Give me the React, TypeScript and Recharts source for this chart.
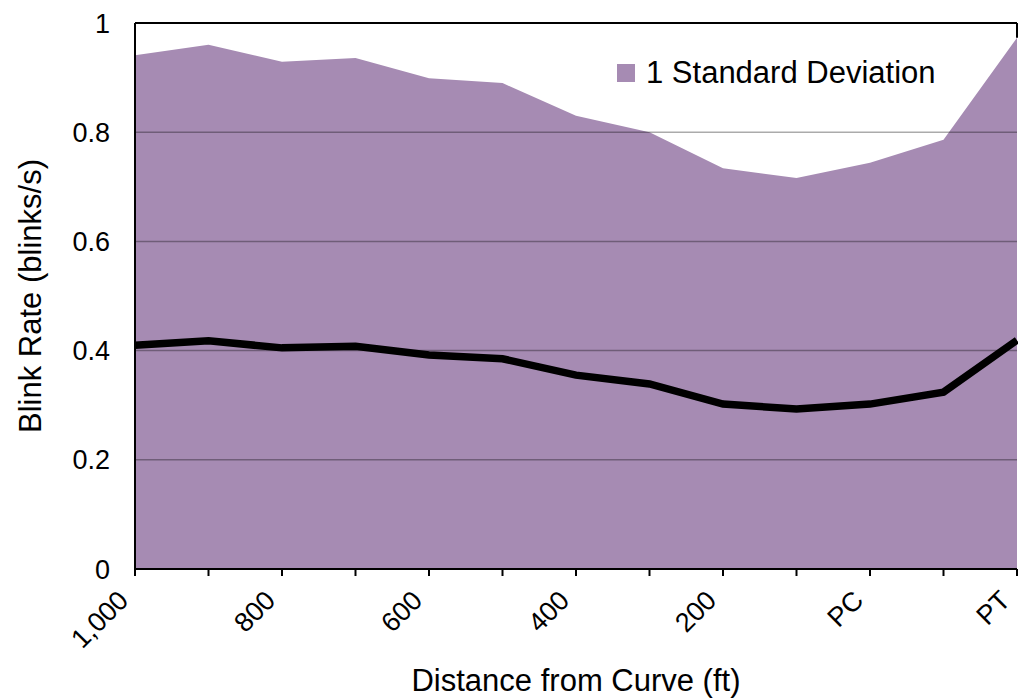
import React from "react";
import {
  ComposedChart,
  Area,
  Line,
  XAxis,
  YAxis,
  ReferenceLine,
  Legend,
  Label,
} from "recharts";

const categories = ["1,000", "900", "800", "700", "600", "500", "400", "300", "200", "100", "PC", "Mid", "PT"];
const shownLabels = ["1,000", "800", "600", "400", "200", "PC", "PT"];
const upperValues = [0.941, 0.960, 0.929, 0.936, 0.899, 0.890, 0.830, 0.800, 0.734, 0.716, 0.744, 0.786, 0.973];
const meanValues = [0.410, 0.418, 0.405, 0.408, 0.392, 0.385, 0.355, 0.339, 0.302, 0.293, 0.302, 0.324, 0.419];
const yTicks = [0, 0.2, 0.4, 0.6, 0.8, 1];
const gridValues = [0.2, 0.4, 0.6, 0.8];

const data = categories.map((c, i) => ({ cat: c, upper: upperValues[i], mean: meanValues[i] }));

const FONT = '"Liberation Sans", Arial, sans-serif';
const PURPLE = "#A68BB3";

const XTick = (props: any) => {
  const { x, y, payload } = props;
  if (!shownLabels.includes(payload.value)) return null;
  return (
    <text
      transform={`translate(${x - 5},${y + 24}) rotate(-45)`}
      textAnchor="end"
      fontSize={27}
      fontFamily={FONT}
      fill="#000"
    >
      {payload.value}
    </text>
  );
};

const LegendContent = () => (
  <div style={{ display: "flex", alignItems: "center", fontFamily: FONT, fontSize: 31, color: "#000", whiteSpace: "nowrap" }}>
    <span style={{ display: "inline-block", width: 18, height: 18, background: PURPLE, marginRight: 11 }} />
    <span>1 Standard Deviation</span>
  </div>
);

const lastCat = categories[categories.length - 1];
const lastUpper = upperValues[upperValues.length - 1];

export default function App() {
  return (
    <div style={{ position: "absolute", left: 0, top: 0, background: "#fff" }}>
      <ComposedChart
        width={1018}
        height={700}
        data={data}
        margin={{ top: 23, right: 1, bottom: 0, left: 0 }}
      >
        <XAxis
          dataKey="cat"
          interval={0}
          height={131}
          tickSize={7}
          tickMargin={2}
          axisLine={{ stroke: "#000", strokeWidth: 2 }}
          tickLine={{ stroke: "#000", strokeWidth: 2 }}
          tick={<XTick />}
          padding={{ left: 0, right: 0 }}
        >
          <Label
            value="Distance from Curve (ft)"
            position="insideBottom"
            offset={9}
            style={{ fontSize: 31, fontFamily: FONT, fill: "#000" }}
          />
        </XAxis>
        <YAxis
          type="number"
          domain={[0, 1]}
          ticks={yTicks}
          width={135}
          tickLine={false}
          tickSize={0}
          tickMargin={25}
          axisLine={{ stroke: "#000", strokeWidth: 2 }}
          tick={{ fontSize: 27, fontFamily: FONT, fill: "#000" }}
          label={{
            content: (p: any) => {
              const vb = p.viewBox;
              const cy = vb.y + vb.height / 2;
              return (
                <text
                  x={30}
                  y={cy}
                  transform={`rotate(-90, 30, ${cy})`}
                  textAnchor="middle"
                  dominantBaseline="central"
                  fontSize={31}
                  fontFamily={FONT}
                  fill="#000"
                >
                  Blink Rate (blinks/s)
                </text>
              );
            },
          }}
        />
        <ReferenceLine y={1} stroke="#000" strokeWidth={2} />
        <ReferenceLine
          segment={[
            { x: lastCat, y: lastUpper },
            { x: lastCat, y: 1 },
          ]}
          stroke="#000"
          strokeWidth={2}
        />
        <Area
          type="linear"
          dataKey="upper"
          name="1 Standard Deviation"
          stroke="none"
          fill={PURPLE}
          fillOpacity={1}
          isAnimationActive={false}
        />
        {gridValues.map((v) => (
          <ReferenceLine key={v} y={v} stroke="#000" strokeOpacity={0.33} strokeWidth={1.5} />
        ))}
        <Line
          type="linear"
          dataKey="mean"
          stroke="#000"
          strokeWidth={7.5}
          dot={false}
          activeDot={false}
          legendType="none"
          isAnimationActive={false}
        />
        <Legend
          layout="horizontal"
          verticalAlign="middle"
          align="center"
          content={<LegendContent />}
          wrapperStyle={{ top: 55, left: 617, width: "auto", height: "auto" }}
        />
      </ComposedChart>
    </div>
  );
}
